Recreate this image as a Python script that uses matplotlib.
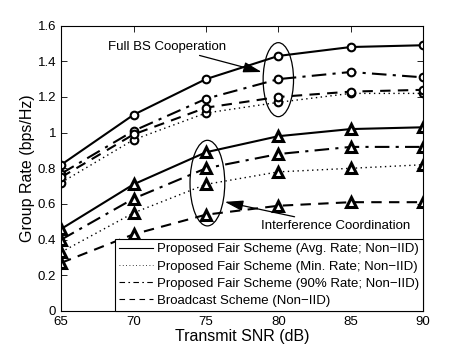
import matplotlib
matplotlib.use("Agg")
import matplotlib.pyplot as plt
from matplotlib.patches import Ellipse
from matplotlib.lines import Line2D

plt.rcParams["font.family"] = ["Liberation Sans", "DejaVu Sans"]

# ----------------------------------------------------------------------
# data
# ----------------------------------------------------------------------
snr = [65, 70, 75, 80, 85, 90]

# full BS cooperation (circle markers)
avg_full = [0.82, 1.10, 1.30, 1.43, 1.48, 1.49]
min_full = [0.72, 0.96, 1.11, 1.17, 1.22, 1.22]
p90_full = [0.77, 1.01, 1.19, 1.30, 1.34, 1.31]
bc_full = [0.75, 0.99, 1.14, 1.20, 1.23, 1.24]

# interference coordination (triangle markers)
avg_ic = [0.46, 0.71, 0.89, 0.98, 1.02, 1.03]
min_ic = [0.33, 0.55, 0.71, 0.78, 0.80, 0.82]
p90_ic = [0.40, 0.63, 0.80, 0.88, 0.92, 0.92]
bc_ic = [0.27, 0.43, 0.54, 0.59, 0.61, 0.61]

labels = [
    "Proposed Fair Scheme (Avg. Rate; Non\u2212IID)",
    "Proposed Fair Scheme (Min. Rate; Non\u2212IID)",
    "Proposed Fair Scheme (90% Rate; Non\u2212IID)",
    "Broadcast Scheme (Non\u2212IID)",
]

xticks = [65, 70, 75, 80, 85, 90]
yticks = [0, 0.2, 0.4, 0.6, 0.8, 1, 1.2, 1.4, 1.6]
ytick_labels = ["0", "0.2", "0.4", "0.6", "0.8", "1", "1.2", "1.4", "1.6"]

# ----------------------------------------------------------------------
# plot
# ----------------------------------------------------------------------
fig = plt.figure(figsize=(4.67, 3.51), dpi=100)
ax = fig.add_axes([0.131, 0.114, 0.775, 0.813])

styles = [
    dict(linestyle="-", lw=1.5),
    dict(linestyle=(0, (1, 2.5)), lw=1.0),
    dict(linestyle=(0, (7, 3, 1.5, 3)), lw=1.5),
    dict(linestyle=(0, (5, 3.5)), lw=1.5),
]
# thinner versions for the legend handles
leg_styles = [
    dict(linestyle="-", lw=0.8),
    dict(linestyle=(0, (1, 3)), lw=0.6),
    dict(linestyle=(0, (5, 3, 1.5, 3)), lw=0.8),
    dict(linestyle=(0, (5, 4)), lw=0.8),
]

full = [avg_full, min_full, p90_full, bc_full]
ic = [avg_ic, min_ic, p90_ic, bc_ic]

for ys, st in zip(full, styles):
    ax.plot(snr, ys, color="k", marker="o", ms=5.5, mfc="white", mec="k",
            mew=1.5, **st)
for ys, st in zip(ic, styles):
    ax.plot(snr, ys, color="k", marker="^", ms=7, mfc="white", mec="k",
            mew=2.2, **st)

# ellipses round the groups
ax.add_patch(Ellipse((80.0, 1.297), 2.1, 0.415, fill=False, ec="k", lw=0.9))
ax.add_patch(Ellipse((75.1, 0.717), 2.4, 0.48, fill=False, ec="k", lw=0.9))

arrow = dict(arrowstyle="-|>,head_length=0.7,head_width=0.2", color="k",
             lw=0.9, mutation_scale=16, shrinkA=0, shrinkB=0)
ax.annotate("Full BS Cooperation", xy=(78.85, 1.34), xytext=(68.2, 1.482),
            fontsize=9.5, va="center", ha="left", arrowprops=arrow)
ax.annotate("Interference Coordination", xy=(76.3, 0.612), xytext=(78.8, 0.479),
            fontsize=9.5, va="center", ha="left", arrowprops=arrow)

ax.set_xlim(65, 90)
ax.set_ylim(0, 1.6)
ax.set_xticks(xticks)
ax.set_yticks(yticks)
ax.set_yticklabels(ytick_labels)
ax.tick_params(direction="in", top=True, right=True, labelsize=9.5,
               length=4, width=0.6)
for sp in ax.spines.values():
    sp.set_linewidth(0.8)

ax.set_xlabel("Transmit SNR (dB)", fontsize=11.5, labelpad=1)
ax.set_ylabel("Group Rate (bps/Hz)", fontsize=11.5, labelpad=2)

handles = [Line2D([], [], color="k", **st) for st in leg_styles]
leg = ax.legend(handles, labels, loc="lower right", fontsize=9.5,
                frameon=True, fancybox=False, edgecolor="k", framealpha=1,
                borderaxespad=0, handlelength=2.6, handletextpad=0.3,
                labelspacing=0.38, borderpad=0.3)
leg.get_frame().set_linewidth(0.8)

fig.savefig("out.png", dpi=100)
